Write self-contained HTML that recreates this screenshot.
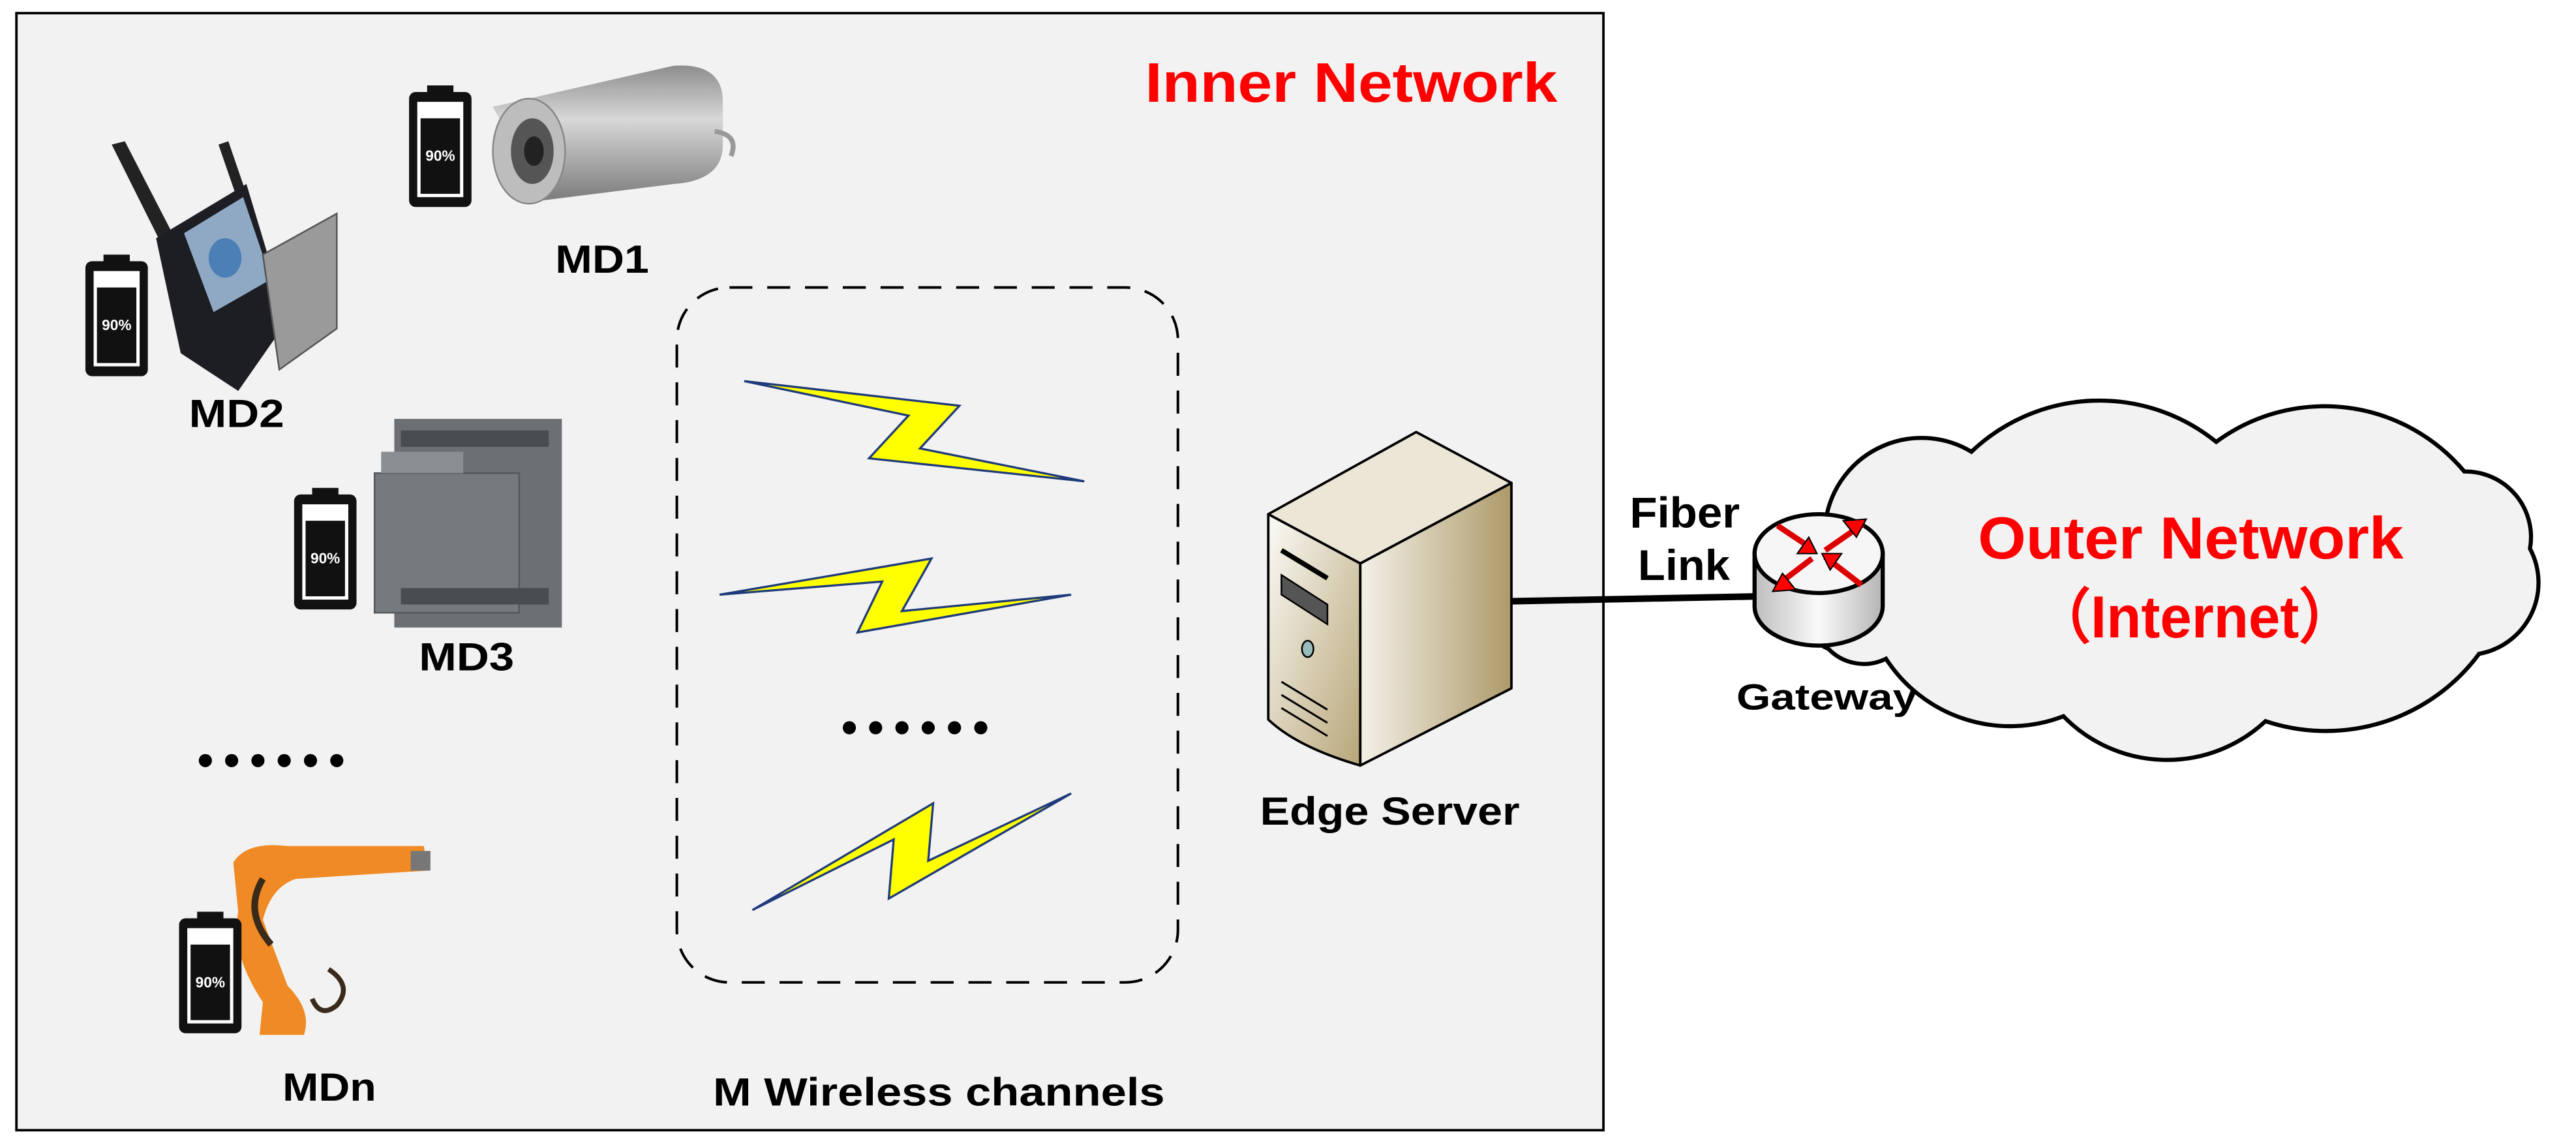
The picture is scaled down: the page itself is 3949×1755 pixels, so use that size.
<!DOCTYPE html>
<html><head><meta charset="utf-8"><style>
html,body{margin:0;padding:0;background:#fff;}
svg{display:block;}
text{font-family:"Liberation Sans Narrow","Liberation Sans",sans-serif;font-weight:bold;}
</style></head><body>
<svg width="3949" height="1755" viewBox="0 0 1568 697" preserveAspectRatio="none" xmlns="http://www.w3.org/2000/svg">
<defs>
<linearGradient id="srvL" x1="0" y1="0" x2="1" y2="1"><stop offset="0" stop-color="#fbfaf6"/><stop offset="1" stop-color="#b8a678"/></linearGradient>
<linearGradient id="srvR" x1="0" y1="0" x2="1" y2="0"><stop offset="0" stop-color="#f4f1e8"/><stop offset="1" stop-color="#ad9a6a"/></linearGradient>
<linearGradient id="cyl" x1="0" y1="0" x2="1" y2="0"><stop offset="0" stop-color="#bdbdbd"/><stop offset="0.5" stop-color="#fafafa"/><stop offset="1" stop-color="#b5b5b5"/></linearGradient>
<linearGradient id="cam" x1="0" y1="0" x2="0" y2="1"><stop offset="0" stop-color="#8d8d8d"/><stop offset="0.4" stop-color="#d8d8d8"/><stop offset="1" stop-color="#7c7c7c"/></linearGradient>
<g id="bat">
<rect x="1" y="4" width="38" height="70" rx="4" fill="#111"/>
<rect x="12" y="0" width="16" height="6" fill="#111"/>
<rect x="6" y="10" width="28" height="58" fill="#fff"/>
<rect x="8" y="20" width="24" height="46" fill="#111"/>
<text x="20" y="46" font-size="9" fill="#fff" text-anchor="middle" font-weight="normal">90%</text>
</g>
</defs>
<rect x="0" y="0" width="1568" height="697" fill="#fff"/>
<rect x="10" y="8" width="966" height="680" fill="#f2f2f2" stroke="#000" stroke-width="1.5"/>
<text x="948" y="62" font-size="34" fill="#f00" text-anchor="end" textLength="251" lengthAdjust="spacingAndGlyphs">Inner Network</text>

<!-- MD1 camera -->
<use href="#bat" x="248" y="52"/>
<g>
<path d="M300,65 L410,40 Q440,38 440,62 L440,88 Q440,110 410,112 L330,122 Z" fill="url(#cam)"/>
<path d="M435,80 Q450,82 445,95" stroke="#999" stroke-width="3" fill="none"/>
<ellipse cx="322" cy="92" rx="22" ry="32" fill="#bdbdbd" stroke="#888"/>
<ellipse cx="324" cy="92" rx="13" ry="20" fill="#555"/>
<ellipse cx="325" cy="92" rx="6" ry="9" fill="#222"/>
</g>
<text x="338" y="166" font-size="24" fill="#000" textLength="57" lengthAdjust="spacingAndGlyphs">MD1</text>

<!-- MD2 handheld -->
<use href="#bat" x="51" y="155"/>
<g>
<path d="M68,88 L76,86 L108,148 L100,152 Z" fill="#222"/>
<path d="M133,88 L139,86 L150,118 L144,120 Z" fill="#222"/>
<path d="M95,145 L150,112 L175,195 L145,238 L110,215 Z" fill="#1d1d24"/>
<path d="M112,142 L148,120 L165,170 L130,190 Z" fill="#8fa9c4"/>
<ellipse cx="137" cy="157" rx="10" ry="12" fill="#4c7fb5"/>
<path d="M160,155 L205,130 L205,200 L170,225 Z" fill="#9a9a9a" stroke="#555" stroke-width="1"/>
</g>
<text x="115" y="260" font-size="24" fill="#000" textLength="58" lengthAdjust="spacingAndGlyphs">MD2</text>

<!-- MD3 PLC -->
<use href="#bat" x="178" y="297"/>
<g>
<rect x="240" y="255" width="102" height="127" fill="#6c7074"/>
<rect x="228" y="288" width="88" height="85" fill="#767a7e" stroke="#55595c"/>
<rect x="244" y="262" width="90" height="10" fill="#4a4d50"/>
<rect x="244" y="358" width="90" height="10" fill="#4a4d50"/>
<rect x="232" y="275" width="50" height="13" fill="#8a8e92"/>
</g>
<text x="255" y="408" font-size="24" fill="#000" textLength="58" lengthAdjust="spacingAndGlyphs">MD3</text>

<g fill="#000"><circle cx="125" cy="463" r="4"/><circle cx="141" cy="463" r="4"/><circle cx="157" cy="463" r="4"/><circle cx="173" cy="463" r="4"/><circle cx="189" cy="463" r="4"/><circle cx="205" cy="463" r="4"/></g>

<!-- MDn robot -->
<g fill="#f08a24">
<path d="M142,525 Q150,512 175,515 L258,515 L260,530 L180,535 Q165,540 160,560 L175,600 Q190,615 185,630 L158,630 L160,610 Q140,580 145,555 Z"/>
<rect x="250" y="518" width="12" height="12" fill="#777"/>
</g>
<path d="M160,535 Q148,555 165,575" stroke="#3a2a1a" stroke-width="4" fill="none"/>
<path d="M200,590 Q215,600 205,612 Q195,620 190,608" stroke="#3a2a1a" stroke-width="3" fill="none"/>
<use href="#bat" x="108" y="555"/>
<text x="172" y="670" font-size="24" fill="#000" textLength="57" lengthAdjust="spacingAndGlyphs">MDn</text>

<!-- dashed box -->
<rect x="412" y="175" width="305" height="423" rx="32" fill="none" stroke="#000" stroke-width="1.6" stroke-dasharray="14,9"/>
<g fill="#ffff00" stroke="#1f3a7a" stroke-width="1.3" stroke-linejoin="miter">
<polygon points="453,232 584,247 560,273 660,293 529,279 553,253"/>
<polygon points="438,362 567,340 549,372 652,362 522,385 537,354"/>
<polygon points="458,554 568,489 565,524 652,483 541,547 544,511"/>
</g>
<g fill="#000"><circle cx="517" cy="443" r="4"/><circle cx="533" cy="443" r="4"/><circle cx="549" cy="443" r="4"/><circle cx="565" cy="443" r="4"/><circle cx="581" cy="443" r="4"/><circle cx="597" cy="443" r="4"/></g>
<text x="434" y="673" font-size="24" fill="#000" textLength="275" lengthAdjust="spacingAndGlyphs">M Wireless channels</text>

<!-- server -->
<g stroke="#000" stroke-width="1.5" stroke-linejoin="round">
<path d="M772,313 L862,263 L920,294 L828,343 Z" fill="#ebe6d6"/>
<path d="M772,313 L828,343 L828,466 Q790,455 772,438 Z" fill="url(#srvL)"/>
<path d="M828,343 L920,294 L920,419 L828,466 Z" fill="url(#srvR)"/>
</g>
<path d="M780,335 L808,352" stroke="#000" stroke-width="3"/>
<path d="M780,350 L808,368 L808,380 L780,362 Z" fill="#555" stroke="#000"/>
<ellipse cx="796" cy="395" rx="3.5" ry="5" fill="#9bb" stroke="#000"/>
<path d="M780,415 L808,432 M780,423 L808,440 M780,431 L808,448" stroke="#000" stroke-width="1.2"/>
<text x="767" y="502" font-size="24" fill="#000" textLength="158" lengthAdjust="spacingAndGlyphs">Edge Server</text>

<!-- cloud -->
<path d="M1112,313 A59,59 0 0 1 1200,275 A113,113 0 0 1 1349,269 A111,111 0 0 1 1500,287 A40,40 0 0 1 1540,334 A44,44 0 0 1 1509,398 A116,116 0 0 1 1379,439 A88,88 0 0 1 1256,436 A90,90 0 0 1 1148,401 A30,30 0 0 1 1113,395 A45,45 0 0 1 1112,313 Z" fill="#f2f2f2" stroke="#000" stroke-width="2.5" stroke-linejoin="miter"/>
<text x="1204" y="340" font-size="36" fill="#f00" textLength="259" lengthAdjust="spacingAndGlyphs">Outer Network</text>
<text x="1238" y="388" font-size="36" fill="#f00" font-family="'Liberation Sans','Noto Sans CJK SC',sans-serif" textLength="196" lengthAdjust="spacingAndGlyphs">（Internet）</text>

<!-- link -->
<line x1="920" y1="366" x2="1072" y2="363" stroke="#000" stroke-width="4"/>
<text x="992" y="321" font-size="26" fill="#000" textLength="67" lengthAdjust="spacingAndGlyphs">Fiber</text>
<text x="997" y="353" font-size="26" fill="#000" textLength="56" lengthAdjust="spacingAndGlyphs">Link</text>

<!-- gateway -->
<path d="M1068,337 L1068,369 A39,24 0 0 0 1146,369 L1146,337 Z" fill="url(#cyl)" stroke="#000" stroke-width="2.5"/>
<ellipse cx="1107" cy="337" rx="39" ry="24" fill="#f6f6f6" stroke="#000" stroke-width="2.5"/>
<g stroke="#d00" stroke-width="3.5">
<line x1="1082" y1="320" x2="1103" y2="334"/><line x1="1134" y1="319" x2="1111" y2="335"/>
<line x1="1082" y1="356" x2="1103" y2="340"/><line x1="1133" y1="356" x2="1111" y2="339"/>
</g>
<g fill="#f00" stroke="#000" stroke-width="0.8">
<polygon points="1106,337 1094,337 1101,327"/><polygon points="1136,316 1122,317 1130,327"/>
<polygon points="1109,337 1121,337 1114,347"/><polygon points="1079,360 1093,359 1085,349"/>
</g>
<text x="1057" y="432" font-size="22" fill="#000" textLength="110" lengthAdjust="spacingAndGlyphs">Gateway</text>
</svg>
</body></html>
